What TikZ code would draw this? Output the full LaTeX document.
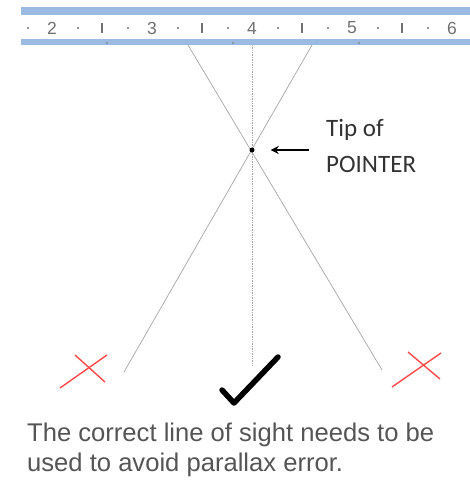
\documentclass[tikz,border=0pt]{standalone}
\usepackage{fontspec}
\setmainfont{Liberation Sans}
\newfontfamily\calibfont{Carlito}
\usepackage{xcolor}
\usetikzlibrary{arrows.meta,positioning}
\definecolor{rulerblue}{HTML}{9CBBE3}
\definecolor{rulergray}{HTML}{707070}
\definecolor{captiongray}{HTML}{555555}
\definecolor{labelgray}{HTML}{333333}
\definecolor{crossred}{HTML}{FF4A4A}

\begin{document}
\begin{tikzpicture}[x=1pt,y=-1pt,
    sight/.style={gray!70,line width=0.7pt},
    crossline/.style={crossred,line width=1.4pt},
    rulernum/.style={rulergray,inner sep=0pt,font=\fontsize{17.5}{17.5}\selectfont}]
  \useasboundingbox (0,0) rectangle (470,485);
  % ruler
  \fill[rulerblue] (21,7) rectangle (470,15);
  \fill[rulerblue] (21,39) rectangle (470,45);
  \foreach \n in {2,...,6}
    \node[rulernum] (num\n) at ({52+100*(\n-2)},28) {\n};
  \foreach \x in {28,78,...,428}
    \fill[rulergray] (\x,28) circle (1.1pt);
  \foreach \x in {102,202,302,402}
    \draw[rulergray,line width=1.4pt] (\x,23) -- (\x,33);
  \foreach \x in {107,233,359}
    \fill[rulergray] (\x,43) circle (0.8pt);
  % lines of sight through the pointer tip
  \coordinate (topL) at (188,45);
  \coordinate (topM) at (252,45);
  \coordinate (topR) at (312,45);
  \coordinate (endL) at (124,372);
  \coordinate (endM) at (252,366);
  \coordinate (endR) at (382,370);
  \draw[sight] (topL) -- (endR);
  \draw[sight] (topR) -- (endL);
  \draw[sight,dash pattern=on 1pt off 0.7pt] (topM) -- (endM);
  \node[circle,fill=black,inner sep=0pt,minimum size=5pt] (tip) at (252,150) {};
  % label and arrow
  \node[anchor=north west,align=left,inner sep=0pt,text=labelgray,
        font=\calibfont\fontsize{25}{36}\selectfont] (tiplabel) at (326,119) {Tip of\\POINTER};
  \coordinate (arrowtail) at (309,150);
  \draw[-{Stealth[length=8pt,width=8pt]},line width=1.3pt,shorten >=16pt] (arrowtail) -- (tip);
  % wrong and right viewing positions
  \draw[crossline] (60,388) -- (107,355);
  \draw[crossline] (75,355) -- (105,382);
  \draw[crossline] (392,387) -- (441,353);
  \draw[crossline] (408,352) -- (440,379);
  \draw[line width=5.5pt,line cap=round,line join=round] (222,390) -- (234,403) -- (278,357);
  % caption
  \node[anchor=north west,align=left,inner sep=0pt,text=captiongray,
        font=\fontsize{25.6}{30}\selectfont] (caption) at (27,423)
        {The correct line of sight needs to be\\used to avoid parallax error.};
\end{tikzpicture}
\end{document}
